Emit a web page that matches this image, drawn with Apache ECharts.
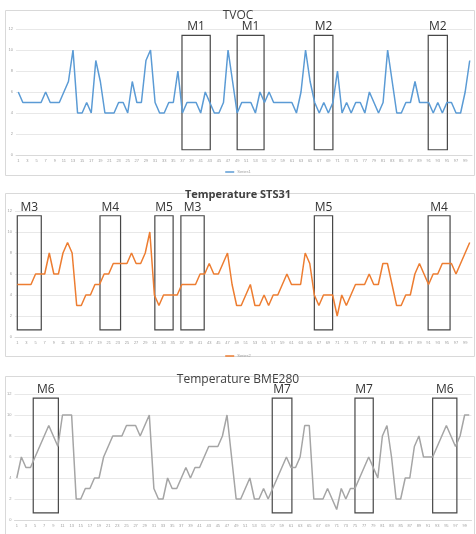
<!DOCTYPE html>
<html>
<head>
<meta charset="utf-8">
<script src="https://cdn.jsdelivr.net/npm/echarts@6/dist/echarts.min.js"></script>
<style>
  html, body { margin: 0; padding: 0; background: #fff; }
  #chart { width: 476px; height: 534px; }
</style>
</head>
<body>
<div id="chart"></div>
<script>
// x categories 1..100
const categories = [];
for (let i = 1; i <= 100; i++) categories.push(String(i));

const tvoc = [6,5,5,5,5,5,6,5,5,5, 6,7,10,4,4,5,4,9,7,4, 4,4,5,5,4,7,5,5,9,10,
  5,4,4,5,5,8,4,5,5,5, 4,6,5,4,4,5,10,7,4,5, 5,5,4,6,5,6,5,5,5,5,
  5,4,6,10,7,5,4,5,4,5, 8,4,5,4,5,5,4,6,5,4, 5,10,7,4,4,5,5,7,5,5,
  5,4,5,4,5,5,4,4,6,9];

const sts31 = [5,5,5,5,6,6,6,8,6,6, 8,9,8,3,3,4,4,5,5,6, 6,7,7,7,7,8,7,7,8,10,
  4,3,4,4,4,4,5,5,5,5, 6,6,7,6,6,7,8,5,3,3, 4,5,3,3,4,3,4,4,5,6,
  5,5,5,8,7,4,3,4,4,4, 2,4,3,4,5,5,5,6,5,5, 7,7,5,3,3,4,4,6,7,6,
  5,6,6,7,7,7,6,7,8,9];

const bme280 = [4,6,5,5,6,7,8,9,8,7, 10,10,10,2,2,3,3,4,4,6, 7,8,8,8,9,9,9,8,9,10,
  3,2,2,4,3,3,4,5,4,5, 5,6,7,7,7,8,10,6,2,2, 3,4,2,2,3,2,3,4,5,6,
  5,5,6,9,9,2,2,2,3,2, 1,3,2,3,3,4,5,6,5,4, 8,9,6,2,2,4,4,7,8,6,
  6,6,7,8,9,8,7,8,10,10];

// marked windows: [label, from category, to category]
const tvocBoxes = [['M1', 36.9, 43.1], ['M1', 49, 54.9], ['M2', 65.9, 70], ['M2', 90.9, 95.1]];
const sts31Boxes = [['M3', 1, 6.25], ['M4', 19.1, 23.6], ['M5', 31.1, 35.1], ['M3', 36.8, 41.9], ['M5', 66, 70], ['M4', 90.9, 95.7]];
const bmeBoxes = [['M6', 4.6, 10.1], ['M7', 56.9, 61.2], ['M7', 75, 79], ['M6', 92, 97.3]];

const titles = ['TVOC', 'Temperature STS31', 'Temperature BME280'];
const seriesNames = ['Series1', 'Series2', 'Series3'];

const chart = echarts.init(document.getElementById('chart'), null, { renderer: 'canvas' });

const panels = [
  { data: tvoc, boxes: tvocBoxes, boxY: [0.5, 11.4], color: '#5b9bd5', grid: { left: 16, top: 29, width: 456, height: 126 }, title: { top: 5, fontWeight: 'normal', fontSize: 12 }, legendTop: 165, frame: [5, 10, 469, 165] },
  { data: sts31, boxes: sts31Boxes, boxY: [0.67, 11.55], color: '#ed7d31', grid: { left: 15, top: 211, width: 457, height: 126 }, title: { top: 184, fontWeight: 'bold', fontSize: 11 }, legendTop: 349, frame: [5, 193, 469, 163] },
  { data: bme280, boxes: bmeBoxes, boxY: [0.67, 11.6], color: '#a5a5a5', grid: { left: 14.5, top: 394, width: 457, height: 126 }, title: { top: 369, fontWeight: 'normal', fontSize: 12 }, legendTop: 530, frame: [5, 376, 469, 170] }
];

let grid = [], xAxis = [], yAxis = [], series = [], title = [], legend = [], graphic = [];

panels.forEach(function (p, i) {
  graphic.push({
    type: 'rect', z: -10, silent: true,
    shape: { x: p.frame[0] + 0.5, y: p.frame[1] + 0.5, width: p.frame[2], height: p.frame[3] },
    style: { fill: '#fff', stroke: '#d9d9d9', lineWidth: 1 }
  });
  grid.push(p.grid);
  title.push({
    text: titles[i], left: 'center', top: p.title.top,
    textStyle: { fontFamily: 'Open Sans', fontSize: p.title.fontSize, fontWeight: p.title.fontWeight, color: '#404040' }
  });
  xAxis.push({
    type: 'category', gridIndex: i, data: categories, boundaryGap: true,
    axisLine: { lineStyle: { color: '#d9d9d9' } },
    axisTick: { show: false },
    axisLabel: { interval: 1, fontSize: 4, color: '#a0a0a0', margin: 4 }
  });
  // hidden value axis so the boxes can sit between categories
  xAxis.push({
    type: 'value', gridIndex: i, min: 0.5, max: 100.5, show: false
  });
  yAxis.push({
    type: 'value', gridIndex: i, min: 0, max: 12, interval: 2,
    axisLine: { show: false }, axisTick: { show: false },
    axisLabel: { fontSize: 4, color: '#a0a0a0', margin: 3 },
    splitLine: { lineStyle: { color: '#e8e8e8', width: 1 } }
  });
  series.push({
    name: seriesNames[i], type: 'line', xAxisIndex: i * 2, yAxisIndex: i,
    data: p.data, symbol: 'none', smooth: false,
    lineStyle: { color: p.color, width: 1.5 }, itemStyle: { color: p.color }
  });
  series.push({
    type: 'line', xAxisIndex: i * 2 + 1, yAxisIndex: i, data: [],
    markArea: {
      silent: true,
      itemStyle: { color: 'rgba(0,0,0,0)', borderColor: '#474747', borderWidth: 1.2 },
      label: { show: true, position: 'top', distance: 2, fontFamily: 'Open Sans', fontSize: 12, color: '#333' },
      data: p.boxes.map(function (b) {
        return [{ name: b[0], xAxis: b[1], yAxis: p.boxY[0] }, { xAxis: b[2], yAxis: p.boxY[1] }];
      })
    }
  });
  legend.push({
    data: [seriesNames[i]], left: 'center', top: p.legendTop,
    icon: 'rect', itemWidth: 9, itemHeight: 1.5, itemGap: 2,
    textStyle: { fontSize: 4, color: '#a0a0a0', padding: [0, 0, 0, -2] }
  });
});

chart.setOption({
  animation: false,
  backgroundColor: '#fff',
  graphic: graphic,
  title: title,
  legend: legend,
  grid: grid,
  xAxis: xAxis,
  yAxis: yAxis,
  series: series
});
</script>
</body>
</html>
